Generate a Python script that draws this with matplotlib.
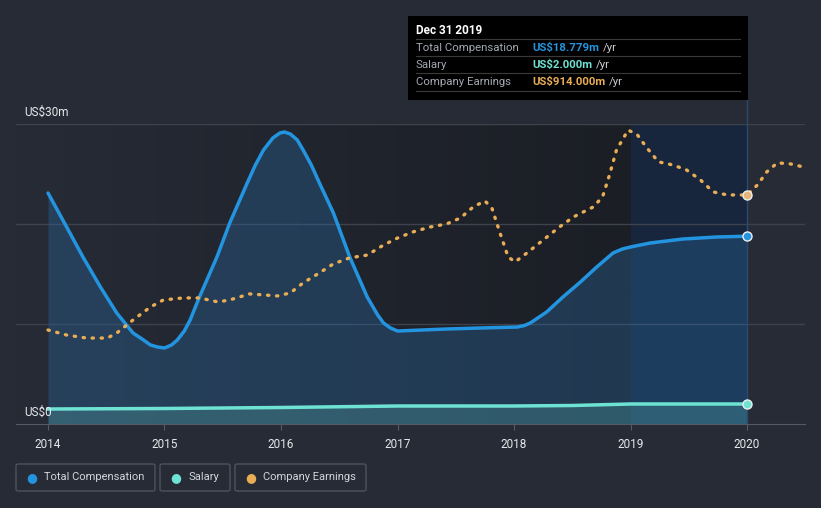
import numpy as np
import matplotlib.pyplot as plt
from matplotlib.patches import Rectangle, FancyBboxPatch
from matplotlib.colors import LinearSegmentedColormap

plt.rcParams['font.family'] = ['Roboto', 'DejaVu Sans']

# Total compensation (US$ m)
comp_t = [2014.00, 2014.16, 2014.30, 2014.45, 2014.59, 2014.73, 2014.82, 2014.88,
          2014.94, 2015.00, 2015.06, 2015.11, 2015.17, 2015.22, 2015.30, 2015.45,
          2015.56, 2015.71, 2015.78, 2015.85, 2015.93, 2015.99, 2016.03, 2016.08,
          2016.14, 2016.19, 2016.26, 2016.33, 2016.45, 2016.59, 2016.74, 2016.83,
          2016.88, 2016.94, 2017.00, 2017.42, 2017.71, 2018.03, 2018.09, 2018.14,
          2018.28, 2018.42, 2018.57, 2018.71, 2018.85, 2018.93, 2019.00, 2019.17,
          2019.45, 2019.74, 2020.00]
comp = [23.1, 19.7, 16.7, 13.7, 11.1, 9.1, 8.4, 7.9,
        7.7, 7.6, 7.9, 8.4, 9.3, 10.4, 12.7, 16.7,
        20.1, 24.1, 25.9, 27.4, 28.6, 29.1, 29.2, 29.0,
        28.4, 27.4, 25.9, 24.1, 21.1, 16.7, 12.7, 10.9,
        10.1, 9.6, 9.3, 9.5, 9.6, 9.7, 9.85, 10.1,
        11.2, 12.7, 14.2, 15.7, 17.1, 17.5, 17.7, 18.1,
        18.5, 18.7, 18.779]

# Salary (US$ m)
salary_t = [2014.0, 2015.0, 2016.0, 2017.0, 2018.0, 2018.5, 2019.0, 2020.0]
salary = [1.5, 1.55, 1.65, 1.8, 1.8, 1.85, 2.0, 2.0]

# Company earnings (US$ m), on its own hidden scale
earn_t = [2014.00, 2014.16, 2014.33, 2014.51, 2014.59, 2014.73, 2014.88, 2014.99,
          2015.16, 2015.30, 2015.46, 2015.56, 2015.73, 2015.97, 2016.08, 2016.19,
          2016.33, 2016.45, 2016.59, 2016.74, 2016.88, 2017.00, 2017.13, 2017.28,
          2017.42, 2017.54, 2017.65, 2017.75, 2017.81, 2017.88, 2017.95, 2018.01,
          2018.11, 2018.25, 2018.39, 2018.51, 2018.68, 2018.76, 2018.82, 2018.88,
          2018.98, 2019.06, 2019.14, 2019.24, 2019.36, 2019.48, 2019.60, 2019.71,
          2019.83, 2020.00, 2020.09, 2020.17, 2020.26, 2020.37, 2020.48]
earnings = [375, 355, 343, 343, 363, 415, 467, 495,
            503, 503, 487, 495, 519, 511, 523, 563,
            603, 639, 663, 674, 714, 742, 766, 786,
            798, 822, 866, 890, 862, 762, 666, 647,
            682, 734, 786, 826, 866, 906, 994, 1094,
            1173, 1153, 1102, 1046, 1034, 1014, 974, 926,
            914, 914, 954, 1006, 1042, 1038, 1026]

years = [2014, 2015, 2016, 2017, 2018, 2019, 2020]

BG = '#262b36'
BLUE = '#2394df'
TEAL = '#6fe3d3'
GOLD = '#e9ad55'

fig = plt.figure(figsize=(8.21, 5.08), dpi=100)
fig.patch.set_facecolor(BG)
ax = fig.add_axes([16 / 821, 84 / 508, 789 / 821, 300 / 508])
ax.set_facecolor(BG)
x0 = 2014 - 32 / 116.5
x1 = 2020 + 58 / 116.5
ax.set_xlim(x0, x1)
ax.set_ylim(0, 30)

# darkening background gradient up to the highlighted year
grad = LinearSegmentedColormap.from_list('g', [BG, '#1b1e25'])
ax.imshow(np.linspace(0, 1, 256).reshape(1, -1), cmap=grad, aspect='auto',
          extent=[x0, 2019.0, 0, 30], zorder=0)
ax.add_patch(Rectangle((2019.0, 0), 1.0, 30, facecolor='#17263c', edgecolor='none', zorder=0))

for v in [10, 20, 30]:
    ax.axhline(v, color='#3d424d', lw=1, zorder=1)

ax.fill_between(comp_t, comp, 0, color='#2b6aa3', alpha=0.35, lw=0, zorder=2)
ax.fill_between(salary_t, salary, 0, color=TEAL, alpha=0.2, lw=0, zorder=2)
ax.plot(comp_t, comp, color=BLUE, lw=2.5, zorder=4, solid_capstyle='round', solid_joinstyle='round')
ax.plot(salary_t, salary, color=TEAL, lw=2.5, zorder=4)

ax2 = ax.twinx()
ax2.set_ylim(0, 1197)
ax2.plot(earn_t, earnings, color=GOLD, lw=2.4, ls=(0, (0.4, 2.3)), dash_capstyle='round', zorder=4)
ax2.plot([earn_t[49]], [earnings[49]], 'o', ms=6.5, color='#e6b57a', mec='#eeeeee', mew=1, zorder=6)
ax2.axis('off')

ax.plot([comp_t[-1]], [comp[-1]], 'o', ms=6.5, color=BLUE, mec='#eeeeee', mew=1, zorder=6)
ax.plot([salary_t[-1]], [salary[-1]], 'o', ms=6.5, color=TEAL, mec='#eeeeee', mew=1, zorder=6)

ax.axvline(2020, color='#2c4a70', lw=1, zorder=3)
ax.plot([2020, 2020], [30, 30 + 24 / 10], color='#2c4a70', lw=1, clip_on=False)

for s in ['top', 'right', 'left']:
    ax.spines[s].set_visible(False)
ax.spines['bottom'].set_color('#555a66')
ax.set_yticks([])
ax.set_xticks(years)
ax.set_xticklabels([str(y) for y in years], color='#e6e8ec', fontsize=8.5)
ax.tick_params(axis='x', length=4, color='#555a66', pad=6)

fig.text(24 / 821, 1 - 112 / 508, 'US$30m', color='#e6e8ec', fontsize=8.5, va='center')
fig.text(24 / 821, 1 - 412 / 508, 'US$0', color='#e6e8ec', fontsize=8.5, va='center')

# tooltip
fig.patches.append(Rectangle((408 / 821, 1 - 100 / 508), 340 / 821, 84 / 508,
                             transform=fig.transFigure, facecolor='#000000', edgecolor='none'))
fig.text(416 / 821, 1 - 31 / 508, 'Dec 31 2019', color='white', fontsize=8.5, fontweight='bold', va='center')
rows = [('Total Compensation', 'US$18.779m', BLUE),
        ('Salary', 'US$2.000m', TEAL),
        ('Company Earnings', 'US$914.000m', GOLD)]
for i, (lab, val, c) in enumerate(rows):
    yy = 48 + i * 17
    fig.lines.append(plt.Line2D([416 / 821, 740 / 821], [1 - (yy - 9) / 508] * 2,
                                transform=fig.transFigure, color='#3a3a3a', lw=0.8))
    fig.text(416 / 821, 1 - yy / 508, lab, color='#a3a8b1', fontsize=8.2, va='center')
    t = fig.text(532 / 821, 1 - yy / 508, val, color=c, fontsize=8.2, fontweight='bold', va='center')
    fig.canvas.draw()
    bb = t.get_window_extent()
    fig.text((bb.x1 + 4) / 821, 1 - yy / 508, '/yr', color='#c8ccd3', fontsize=8.2, va='center')
fig.lines.append(plt.Line2D([416 / 821, 740 / 821], [1 - 91 / 508] * 2,
                            transform=fig.transFigure, color='#3a3a3a', lw=0.8))

# legend
legend = [('Total Compensation', BLUE, 16, 155),
          ('Salary', TEAL, 160, 230),
          ('Company Earnings', GOLD, 235, 366)]
for lab, c, xa, xb in legend:
    fig.patches.append(FancyBboxPatch((xa / 821, 1 - 491 / 508), (xb - xa) / 821, 27 / 508,
                                      boxstyle='round,pad=0,rounding_size=0.003',
                                      transform=fig.transFigure, facecolor='none',
                                      edgecolor='#4d525e', lw=1))
    fig.text((xa + 16) / 821, 1 - 477.5 / 508, '\u25CF', color=c, fontsize=9, ha='center', va='center')
    fig.text((xa + 28) / 821, 1 - 477.5 / 508, lab, color='#d3d6dc', fontsize=8, va='center')

fig.savefig('out.png', dpi=100, facecolor=BG)
